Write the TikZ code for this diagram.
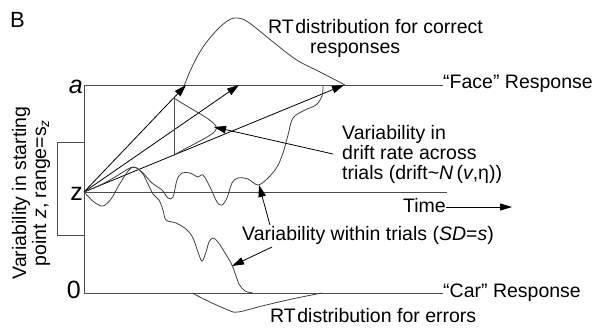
\documentclass[tikz,border=0pt]{standalone}
\usepackage{fontspec}
\setmainfont{Liberation Sans}
\usetikzlibrary{arrows.meta,calc}
\begin{document}
\begin{tikzpicture}[x=1pt,y=-1pt,
  lbl/.style={inner sep=0pt, font=\fontsize{19.5}{20}\selectfont},
  big/.style={inner sep=0pt, font=\fontsize{25}{26}\selectfont},
  axis/.style={draw=black!70, line width=0.9pt},
  wig/.style={draw=black!75, line width=0.8pt},
  arr/.style={draw=black, line width=0.8pt, -{Triangle[length=12pt,width=7.5pt]}},
]
\useasboundingbox (0,0) rectangle (600,327);

% key points
\coordinate (tl) at (84,85);
\coordinate (zc) at (84,192);
\coordinate (bl) at (84,293);
\coordinate (t1) at (186,85);
\coordinate (t2) at (239,85);
\coordinate (t3) at (344,85);
\coordinate (dtop) at (174,98);
\coordinate (dbot) at (174,155);
\coordinate (dtip) at (214,127);
\coordinate (dstart) at (333,154);
\coordinate (w1tip) at (259,185);
\coordinate (w1start) at (270,225);
\coordinate (w2tip) at (232,266);
\coordinate (w2start) at (272,247);
\coordinate (timeend) at (512,207);
\coordinate (brt) at (84,142);
\coordinate (brb) at (84,235);

% text
\node[lbl, font=\fontsize{22}{24}\selectfont, anchor=base west] (B) at (10,27) {B};
\node[big, anchor=base east] (la) at (83,93) {\textit{a}};
\node[big, anchor=base east] (lz) at (83,200) {z};
\node[big, anchor=base east] (l0) at (81,298) {0};
\node[lbl, anchor=base west] (face) at (443,88) {“Face” Response};
\node[lbl, anchor=base west] (car) at (443,297) {“Car” Response};
\node[lbl, anchor=base west] (rtc) at (268,33) {RT\hspace{0.08em}distribution for correct};
\node[lbl, anchor=base west] (rtc2) at (310,53) {responses};
\node[lbl, anchor=base west] (rte) at (270,322) {RT\hspace{0.08em}distribution for errors};
\node[lbl, anchor=base west] (time) at (403,212) {Time};
\node[lbl, anchor=base west] (within) at (242,240) {Variability within trials (\textit{SD}=\textit{s})};
\node[lbl, anchor=north west, align=left] (drift) at (342,125) {Variability in\\drift rate across\\trials (drift\textasciitilde\textit{N}\,(\textit{v},η))};
\node[lbl, rotate=90, align=center] (vz) at (31,193) {Variability in starting\\point \textit{z}, range=s\textsubscript{\textit{z}}};

% axes and boundaries
\draw[axis] (tl) -- (tl -| face.west);
\draw[axis] (tl) -- (bl);
\draw[axis] (bl) -- (bl -| car.west);
\draw[axis] (zc) -- (447,192);
\draw[axis] (brt) -- ++(-27,0) |- (brb);
\draw[line width=0.8pt, -{Triangle[length=12pt,width=7pt]}] (time.east |- timeend) -- (timeend);

% drift arrows
\draw[arr] (zc) -- (t1);
\draw[arr] (zc) -- (t2);
\draw[arr] (zc) -- (t3);
\draw[axis] (dtop) -- (dbot);
\draw[wig] (dtop) .. controls (192,110) and (210,118) .. (216,126)
  .. controls (220,133) and (200,140) .. (dbot);

% RT distributions
\draw[wig] plot[smooth, tension=0.6] coordinates {(184,86) (192,67) (203,47) (217,30) (229,20) (238,18) (248,22) (267,37) (287,53) (300,62) (320,72) (345,85)};
\draw[wig] plot[smooth, tension=0.6] coordinates {(192,293) (210,302) (228,310) (238,312) (262,306) (292,299) (322,293)};

% sample paths
\draw[wig] plot[smooth, tension=0.55] coordinates {(84,192) (96,187) (108,181) (120,174) (128,169) (134,167) (142,172) (152,183) (162,190) (168,198) (173,197) (177,180) (182,173) (190,173) (198,177) (203,175) (210,187) (217,202) (222,205) (227,198) (232,183) (238,178) (248,179) (258,185) (268,178) (277,167) (283,153) (288,135) (293,118) (305,110) (316,105) (322,96) (323,86)};
\draw[wig] plot[smooth, tension=0.55] coordinates {(84,192) (94,202) (103,206) (111,199) (119,185) (126,174) (131,168) (137,168) (143,174) (148,184) (153,194) (159,200) (163,210) (166,220) (176,223) (186,229) (193,238) (198,252) (202,261) (206,252) (209,242) (213,238) (218,242) (225,253) (231,263) (235,273) (239,284) (245,291) (253,293)};

% annotation arrows
\draw[arr] (dstart) -- (dtip);
\draw[arr] (w1start) -- (w1tip);
\draw[arr] (w2start) -- (w2tip);
\end{tikzpicture}
\end{document}
